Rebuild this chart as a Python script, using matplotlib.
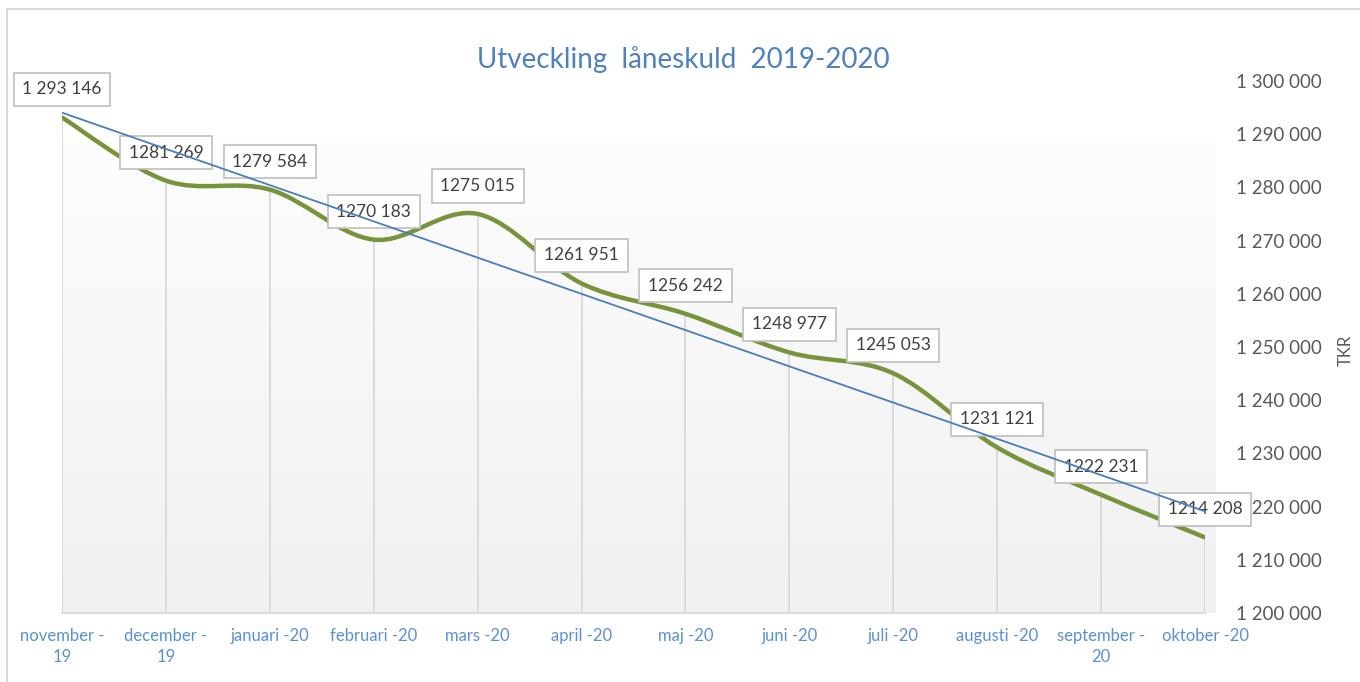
import numpy as np
import matplotlib
matplotlib.use("Agg")
import matplotlib.pyplot as plt
from matplotlib.path import Path
from matplotlib.patches import PathPatch, Rectangle

plt.rcParams['font.family'] = ['Lato', 'DejaVu Sans']

months = ["november -\n19", "december -\n19", "januari -20", "februari -20", "mars -20",
          "april -20", "maj -20", "juni -20", "juli -20", "augusti -20",
          "september -\n20", "oktober -20"]
skuld = [1293146, 1281269, 1279584, 1270183, 1275015, 1261951,
         1256242, 1248977, 1245053, 1231121, 1222231, 1214208]
yticks = list(range(1200000, 1300001, 10000))

green = '#77933c'
blue = '#4a7ebb'
grey_txt = '#595959'

fig = plt.figure(figsize=(13.6, 6.82), dpi=100)
ax = fig.add_axes([62 / 1360, 1 - 613 / 682, (1205 - 62) / 1360, (613 - 81) / 682])

x = np.arange(len(skuld))
y = np.array(skuld, dtype=float)

# plot area gradient
grad = np.linspace(0, 1, 256).reshape(-1, 1)
ax.imshow(grad, cmap=matplotlib.colors.LinearSegmentedColormap.from_list('g', ['#f0f0f0', '#fdfdfd']),
          extent=[0, 11.1, 1200000, 1288500], origin='lower', aspect='auto', zorder=0, clip_on=False)

# drop lines
ax.vlines(x, 1200000, y, color='#d9d9d9', lw=1.3, zorder=1)

# smoothed line (Excel style bezier)
pts = np.column_stack([x, y])
verts = [pts[0]]
codes = [Path.MOVETO]
n = len(pts)
for i in range(n - 1):
    p0 = pts[max(i - 1, 0)]
    p1 = pts[i]
    p2 = pts[i + 1]
    p3 = pts[min(i + 2, n - 1)]
    verts += [p1 + (p2 - p0) / 6, p2 - (p3 - p1) / 6, p2]
    codes += [Path.CURVE4] * 3
ax.add_patch(PathPatch(Path(verts, codes), fill=False, edgecolor=green, lw=3.2,
                       capstyle='round', zorder=2))

# linear trend
k, m = np.polyfit(x, y, 1)
ax.plot(x, k * x + m, color=blue, lw=1.3, zorder=4)

# data labels
for i, v in enumerate(skuld):
    if i == 0:
        s = f"{v:,}".replace(",", " ")
    else:
        s = f"{v // 1000} {v % 1000:03d}"
    ax.annotate(s, (i, v), xytext=(0, 28), textcoords='offset pixels', ha='center', va='center',
                fontsize=12.5, color='#404040', zorder=3,
                bbox=dict(boxstyle='square,pad=0.5', fc='white', ec='#bfbfbf', lw=1.2))

ax.set_xlim(0, 11)
ax.set_ylim(1200000, 1300000)
ax.set_xticks(x)
ax.set_xticklabels(months, color='#5b8fd6', fontsize=12, linespacing=1.4)
ax.yaxis.tick_right()
ax.set_yticks(yticks)
ax.set_yticklabels([f"{t:,}".replace(",", " ") for t in yticks], color=grey_txt, fontsize=13.5)
ax.tick_params(length=0)
ax.tick_params(axis='y', pad=22)
ax.tick_params(axis='x', pad=11)
for s in ['top', 'left', 'right']:
    ax.spines[s].set_visible(False)
ax.spines['bottom'].set_color('#d9d9d9')
ax.spines['bottom'].set_linewidth(1.5)
ax.set_facecolor('none')

fig.text(1346 / 1360, 1 - 350 / 682, "TKR", rotation=90, ha='center', va='center',
         color=grey_txt, fontsize=12)
fig.text(683 / 1360, 1 - 60 / 682, "Utveckling  låneskuld  2019-2020", ha='center', va='center',
         color='#4f81bd', fontsize=20)

# chart frame
fig.patches.append(Rectangle((7 / 1360, -0.1), 1.2, 1 - 9 / 682 + 0.1, transform=fig.transFigure,
                             fill=False, ec='#d9d9d9', lw=1.5))

fig.savefig('out.png', dpi=100)
